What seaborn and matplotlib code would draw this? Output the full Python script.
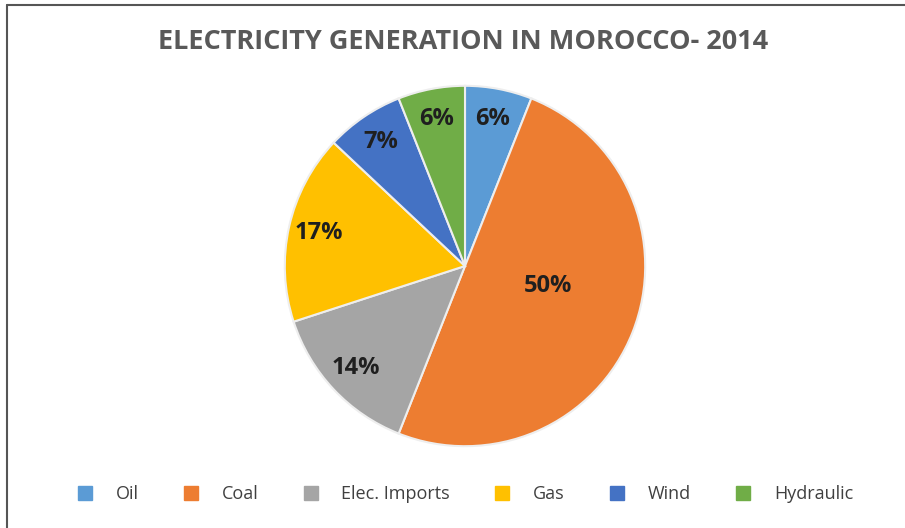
import matplotlib
matplotlib.use("Agg")
import matplotlib.pyplot as plt
import seaborn as sns
from matplotlib.lines import Line2D
import numpy as np

categories = ["Oil", "Coal", "Elec. Imports", "Gas", "Wind", "Hydraulic"]
values = [6, 50, 14, 17, 7, 6]
colors_hex = ["#5B9BD5", "#ED7D31", "#A5A5A5", "#FFC000", "#4472C4", "#70AD47"]
title = "ELECTRICITY GENERATION IN MOROCCO- 2014"

sns.set_theme(style="white")
plt.rcParams['font.family'] = ['Open Sans', 'DejaVu Sans']
palette = sns.color_palette(colors_hex)

W, H = 905, 528
fig = plt.figure(figsize=(W / 100, H / 100), dpi=100)
fig.patch.set_facecolor("white")

cx, cy, r = 465, 266, 182
ax = fig.add_axes([(cx - r) / W, (H - cy - r) / H, 2 * r / W, 2 * r / H])

wedges, texts, autotexts = ax.pie(
    values, colors=palette, startangle=90, counterclock=False,
    autopct=lambda p: f"{p:.0f}%", pctdistance=0.83,
    wedgeprops=dict(edgecolor="#eeeeee", linewidth=1.5),
    textprops=dict(fontsize=17, fontweight="bold", color="#1f1f1f"))
ax.set_xlim(-1.01, 1.01)
ax.set_ylim(-1.01, 1.01)
ax.set_aspect("equal")
# Coal label sits closer to the centre in the reference
x, y = autotexts[1].get_position()
autotexts[1].set_position((x * 0.6, y * 0.6 + 0.07))

fig.text(463 / W, 1 - 42 / H, title, ha="center", va="center",
         fontsize=19.5, fontweight="bold", color="#595959")

handles = [Line2D([], [], marker="s", linestyle="none", markersize=10,
                  markerfacecolor=c, markeredgecolor=c) for c in palette]
fig.legend(handles, categories, loc="center", bbox_to_anchor=(460 / W, 1 - 494 / H),
           ncol=6, frameon=False, fontsize=13, labelcolor="#404040",
           columnspacing=1.9, handletextpad=0.7)

# partial frame: top and left borders
fig.add_artist(Line2D([7 / W, 1], [1 - 5 / H, 1 - 5 / H], color="#555555", lw=1.5,
                      transform=fig.transFigure))
fig.add_artist(Line2D([7 / W, 7 / W], [0, 1 - 5 / H], color="#555555", lw=1.5,
                      transform=fig.transFigure))

fig.savefig("out.png", dpi=100, facecolor="white")
